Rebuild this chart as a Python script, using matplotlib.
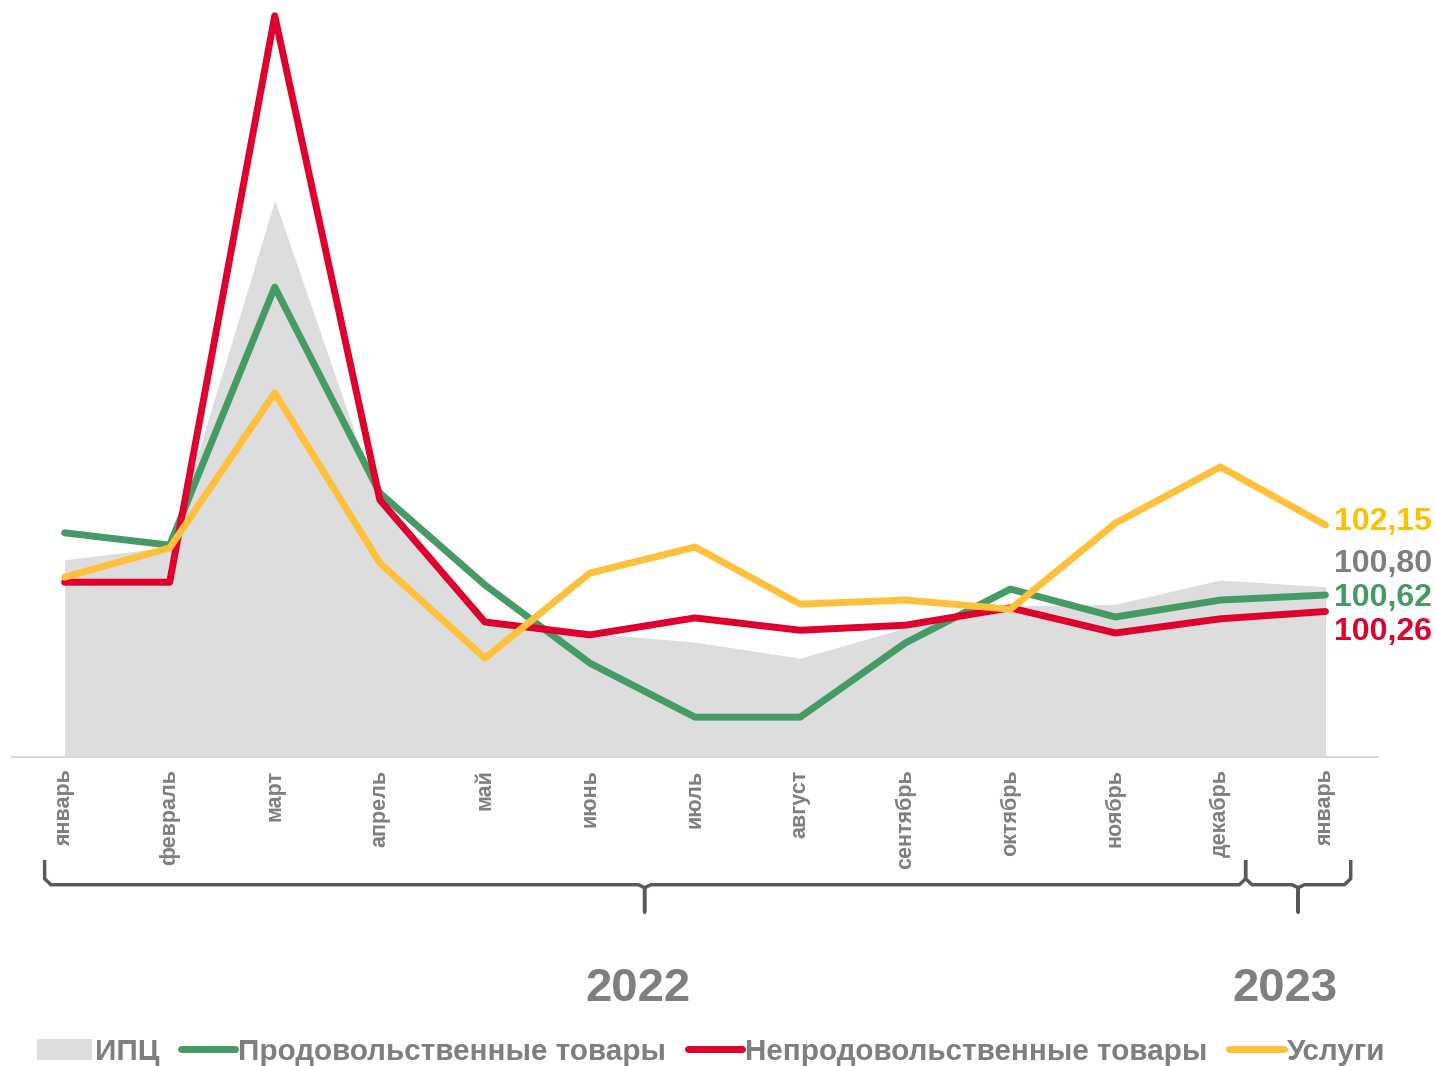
import matplotlib.pyplot as plt
from matplotlib.patches import Patch
from matplotlib.lines import Line2D
import matplotlib.transforms as mtrans

plt.rcParams['font.family'] = ['Liberation Sans', 'DejaVu Sans']

# Данные (индексы к предыдущему месяцу, %)
months = ["январь", "февраль", "март", "апрель", "май", "июнь", "июль",
          "август", "сентябрь", "октябрь", "ноябрь", "декабрь", "январь"]
cpi = [101.39, 101.67, 109.25, 102.59, 100.12, 99.79, 99.59, 99.24, 99.90, 100.38, 100.42, 100.95, 100.80]
food = [101.98, 101.71, 107.35, 102.85, 100.84, 99.13, 97.95, 97.95, 99.57, 100.75, 100.14, 100.51, 100.62]
nonfood = [100.90, 100.90, 113.28, 102.70, 100.03, 99.75, 100.12, 99.85, 99.96, 100.34, 99.79, 100.10, 100.26]
services = [101.01, 101.65, 105.04, 101.32, 99.24, 101.10, 101.67, 100.42, 100.51, 100.31, 102.19, 103.42, 102.15]
last_labels = ["102,15", "100,80", "100,62", "100,26"]
years = ["2022", "2023"]

c_grey = "#DDDDDD"
c_green = "#459A65"
c_red = "#E0002D"
c_yellow = "#FFC13B"
c_text = "#7F7F7F"
c_brace = "#595959"

fig = plt.figure(figsize=(14.35, 10.66), dpi=100)
ax = fig.add_axes([0.0084, 0.2899, 0.9519, 0.7008])

x = list(range(len(months)))
ax.fill_between(x, 97.08, cpi, color=c_grey, lw=0)
lw = 5
for vals, col in [(food, c_green), (nonfood, c_red), (services, c_yellow)]:
    ax.plot(x, vals, color=col, lw=lw, solid_capstyle="round", solid_joinstyle="round")

ax.set_xlim(-0.5, 12.5)
ax.set_ylim(97.08, 113.41)
ax.set_yticks([])
ax.set_xticks(x)
ax.set_xticklabels(months, rotation=90, fontsize=15.5, fontweight="bold", color=c_text, va="top")
ax.tick_params(axis="x", length=0, pad=9)
for s in ["top", "right", "left"]:
    ax.spines[s].set_visible(False)
ax.spines["bottom"].set_color("#D9D9D9")
ax.spines["bottom"].set_linewidth(1.5)

# подписи последних значений
end_cols = ["#FFC000", c_text, c_green, c_red]
end_vals = [services[-1], cpi[-1], food[-1], nonfood[-1]]
end_offsets = [2, 16.5, -2.5, -14.5]
for lab, v, col, off in zip(last_labels, end_vals, end_cols, end_offsets):
    ax.annotate(lab, (12, v), xytext=(6, off), textcoords="offset points",
                fontsize=23, fontweight="bold", color=col,
                va="center", ha="left", annotation_clip=False)

# фигурные скобки под осью
tr = mtrans.blended_transform_factory(ax.transData, ax.transAxes)


def brace(x0, x1, xm, y_top=-0.138, y_mid=-0.171, y_tip=-0.2075):
    r = 0.06
    xs = [x0, x0, x0 + r, xm - r, xm, xm, xm, xm + r, x1 - r, x1, x1]
    ys = [y_top, y_mid + 0.008, y_mid, y_mid, y_mid - 0.004, y_tip, y_mid - 0.004, y_mid, y_mid, y_mid + 0.008, y_top]
    ax.plot(xs, ys, color=c_brace, lw=2.5, transform=tr, clip_on=False,
            solid_joinstyle="round", solid_capstyle="butt")


brace(-0.19, 11.24, 5.52)
brace(11.24, 12.24, 11.74)

ax.text(5.46, -0.31, years[0], transform=tr, fontsize=34, fontweight="bold",
        color=c_text, ha="center", va="center")
ax.text(11.61, -0.31, years[1], transform=tr, fontsize=34, fontweight="bold",
        color=c_text, ha="center", va="center")

handles = [Patch(facecolor=c_grey, edgecolor="none"),
           Line2D([], [], color=c_green, lw=lw, solid_capstyle="round"),
           Line2D([], [], color=c_red, lw=lw, solid_capstyle="round"),
           Line2D([], [], color=c_yellow, lw=lw, solid_capstyle="round")]
labels = ["ИПЦ", "Продовольственные товары", "Непродовольственные товары", "Услуги"]
leg = fig.legend(handles, labels, loc="center", bbox_to_anchor=(0.4955, 0.0135), ncol=4,
                 frameon=False, fontsize=21.3, handlelength=1.85, handletextpad=0.1,
                 columnspacing=0.72, borderaxespad=0)
for t in leg.get_texts():
    t.set_color(c_text)
    t.set_fontweight("bold")

fig.savefig("out.png", dpi=100)
